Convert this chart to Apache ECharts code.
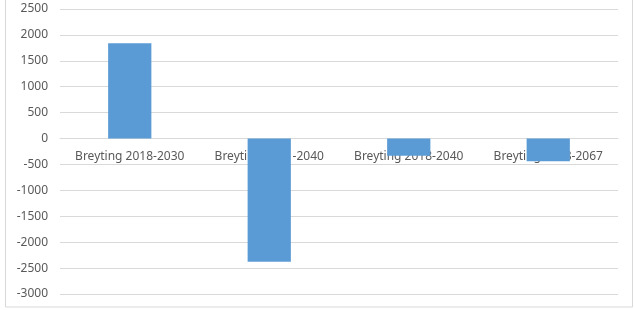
<!DOCTYPE html>
<html>
<head>
<meta charset="utf-8">
<script src="https://cdn.jsdelivr.net/npm/echarts@6/dist/echarts.min.js"></script>
<style>
  html, body { margin: 0; padding: 0; background: #fff; }
  #chart { width: 634px; height: 310px; }
</style>
</head>
<body>
<div id="chart"></div>
<script>
// data
const categories = ['Breyting 2018-2030', 'Breyting 2031-2040', 'Breyting 2018-2040', 'Breyting 2018-2067']
const values = [1840, -2380, -330, -440]

const yMin = -3000
const yMax = 2500
const gridTop = 9
const gridBottom = 16
const plotH = 310 - gridTop - gridBottom
// move the category axis up to the zero line
const zeroOffset = -plotH * (0 - yMin) / (yMax - yMin)

const chart = echarts.init(document.getElementById('chart'))

const option = {
  animation: false,
  graphic: [
    {
      type: 'rect',
      shape: { x: 5.5, y: -2, width: 627, height: 309 },
      style: { fill: 'none', stroke: '#d9d9d9', lineWidth: 1 },
      silent: true
    }
  ],
  grid: { left: 60, right: 16, top: gridTop, bottom: gridBottom },
  xAxis: {
    type: 'category',
    data: categories,
    position: 'bottom',
    offset: zeroOffset,
    axisLine: { onZero: false, lineStyle: { color: '#d9d9d9' } },
    axisTick: { show: false },
    axisLabel: {
      interval: 0,
      hideOverlap: false,
      color: '#595959',
      fontSize: 12,
      fontFamily: 'Noto Sans',
      margin: 12
    }
  },
  yAxis: {
    type: 'value',
    min: yMin,
    max: yMax,
    interval: 500,
    axisLine: { show: false },
    axisTick: { show: false },
    axisLabel: {
      color: '#595959',
      fontSize: 12,
      fontFamily: 'Noto Sans',
      margin: 12,
      formatter: v => String(v)
    },
    splitLine: { lineStyle: { color: '#d9d9d9' } }
  },
  series: [
    {
      type: 'bar',
      data: values,
      barWidth: '31%',
      itemStyle: { color: '#5b9bd5' }
    }
  ]
}

chart.setOption(option)
</script>
</body>
</html>
